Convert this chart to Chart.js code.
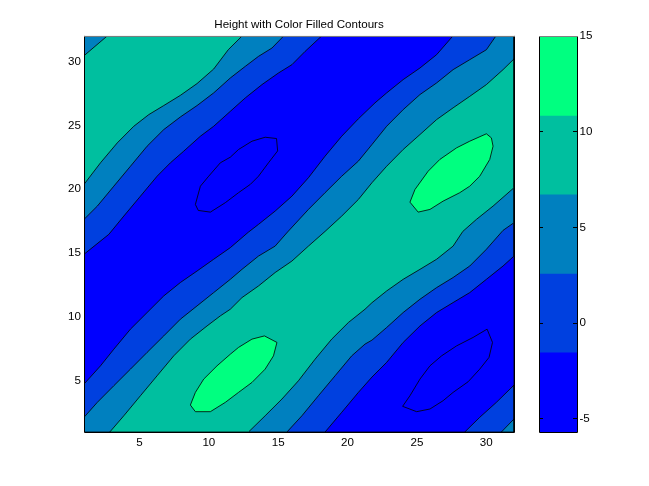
<!DOCTYPE html>
<html>
<head>
<meta charset="utf-8">
<script src="https://cdn.jsdelivr.net/npm/chart.js@4.4.1/dist/chart.umd.min.js"></script>
<style>
  html, body { margin: 0; padding: 0; background: #fff; }
  #wrap { position: relative; width: 649px; height: 486px; }
  canvas { position: absolute; top: 0; }
</style>
</head>
<body>
<div id="wrap">
  <canvas id="main" width="649" height="486" style="left:0"></canvas>
  <canvas id="cbar" width="129" height="486" style="left:520px"></canvas>
</div>
<script>
// axis limits and ticks
const xLim = [1, 32];
const yLim = [1, 32];
const xTicks = [5, 10, 15, 20, 25, 30];
const yTicks = [5, 10, 15, 20, 25, 30];
const cbTicks = [-5, 0, 5, 10, 15];

// contour levels (band edges) and band colours (winter)
const levels = [-5.68, -1.55, 2.57, 6.71, 10.82, 15];
const bandColors = ['#0000ff', '#0040df', '#0080bf', '#00bf9f', '#00ff80'];

// contour lines, [x, y]
const lineCorner = [[1, 30.45], [2.68, 32]];
const lineB = [[1, 20.38], [2.19, 22.07], [3.4, 23.63], [4.59, 24.93], [5.67, 25.84], [6.75, 26.55], [7.95, 27.35], [9.15, 28.27], [10.35, 29.41], [11.4, 30.92], [12.4, 32]];
const lineC = [[1, 17.64], [1.96, 18.68], [3.15, 20.24], [4.35, 21.8], [5.55, 23.37], [6.75, 24.67], [7.95, 25.66], [9.15, 26.55], [10.35, 27.54], [11.55, 28.71], [12.63, 29.62], [13.58, 30.4], [14.55, 31.05], [15.4, 32]];
const lineD = [[1, 14.91], [2.79, 16.47], [3.87, 17.9], [5.07, 19.46], [6.27, 21.02], [7.23, 22.07], [8.19, 22.98], [9.39, 24.15], [10.35, 24.93], [11.55, 26.1], [12.63, 27.15], [13.83, 28.19], [15.02, 29.1], [15.99, 29.75], [16.94, 30.79], [18.14, 32]];
const lineE = [[1, 4.75], [2.19, 6.18], [3.15, 7.48], [4.35, 9.05], [5.55, 10.35], [6.75, 11.65], [7.95, 12.7], [9.15, 13.6], [10.35, 14.52], [11.55, 15.43], [12.84, 16.63], [13.58, 17.25], [14.78, 18.29], [15.99, 19.46], [17.18, 20.9], [18.38, 22.59], [19.58, 24.15], [20.78, 25.51], [21.98, 26.76], [22.82, 27.54], [24.01, 28.58], [25.22, 29.49], [26.42, 30.53], [27.6, 32]];
const lineF = [[1, 2.15], [1.96, 3.32], [3.15, 4.62], [4.35, 5.92], [5.55, 7.23], [6.75, 8.52], [7.95, 9.83], [9.15, 10.87], [10.35, 11.91], [11.55, 12.95], [12.39, 13.73], [13.58, 14.77], [14.78, 15.55], [15.68, 16.66], [17.18, 18.42], [18.38, 19.73], [19.58, 21.02], [20.78, 22.2], [21.76, 23.5], [22.82, 24.93], [24.01, 26.23], [25.22, 27.41], [26.42, 28.32], [27.61, 29.36], [28.81, 30.14], [30.01, 30.92], [30.7, 32]];
const lineG = [[2.86, 1], [3.87, 2.27], [5.07, 3.84], [6.27, 5.4], [7.47, 6.96], [8.67, 8.27], [9.87, 9.3], [10.83, 10.09], [11.55, 10.61], [12.39, 11.52], [13.58, 12.43], [14.78, 13.48], [15.99, 14.38], [17.18, 15.55], [18.38, 16.7], [19.58, 17.9], [20.78, 19.2], [21.76, 20.51], [22.82, 21.8], [24.01, 23.11], [25.22, 24.28], [26.42, 25.45], [27.61, 26.37], [28.81, 27.27], [30.01, 28.19], [31.21, 29.36], [32, 30.2]];
const lineH = [[12.86, 1], [14.06, 2.27], [15.27, 3.58], [16.46, 5.01], [17.66, 6.7], [18.86, 8.27], [20.06, 9.57], [21.26, 10.61], [21.76, 11.12], [22.82, 12.04], [24.01, 12.95], [25.22, 13.73], [26.42, 14.52], [27.61, 15.55], [28.31, 16.7], [29.29, 17.64], [30.49, 18.68], [32, 20.12]];
const lineI = [[15.63, 1], [16.71, 2.27], [17.9, 3.84], [19.1, 5.4], [20.3, 6.96], [21.26, 7.88], [21.76, 8.19], [22.82, 9.18], [24.01, 10.35], [25.22, 11.39], [26.42, 12.3], [27.61, 13.09], [28.81, 13.99], [30.01, 15.3], [31.21, 16.78], [32, 17.38]];
const lineJ = [[18.38, 1], [19.58, 2.54], [20.78, 4.1], [21.76, 5.3], [22.82, 6.45], [24.01, 8.01], [25.22, 9.3], [26.42, 10.35], [27.61, 11.13], [28.81, 11.91], [30.01, 12.95], [31.21, 13.99], [32, 14.77]];
const lineK = [[28.45, 1], [29.53, 2.15], [30.73, 3.32], [32, 4.67]];
const lineM = [[31.09, 1], [32, 2.02]];

// closed loops: two peaks and two dips
const peakA = [[8.67, 3.11], [9.03, 4.1], [9.63, 5.14], [10.59, 6.18], [11.55, 7.09], [12.14, 7.62], [13.11, 8.27], [14.01, 8.52], [14.91, 8.01], [14.66, 6.96], [14.06, 5.92], [13.11, 4.88], [12.14, 4.1], [11.19, 3.32], [10.11, 2.59], [9.03, 2.59]];
const peakB = [[24.5, 18.99], [24.86, 19.98], [25.81, 21.41], [26.65, 22.33], [27.86, 23.24], [28.81, 23.76], [30.01, 24.34], [30.37, 24.02], [30.49, 23.37], [30.25, 22.33], [29.53, 21.02], [28.81, 20.24], [28.09, 19.73], [26.89, 19.07], [25.94, 18.42], [25.09, 18.21]];
const dipA = [[9.03, 18.81], [9.39, 20.24], [9.99, 21.02], [10.83, 22.07], [11.55, 22.51], [12.14, 23.11], [13.11, 23.76], [14.06, 24.07], [14.88, 23.97], [14.96, 23.0], [14.3, 22.07], [13.58, 21.02], [12.99, 20.38], [12.14, 19.73], [11.19, 18.95], [10.11, 18.21], [9.24, 18.34]];
const dipB = [[23.97, 3.01], [24.5, 3.84], [25.22, 5.14], [25.94, 6.18], [26.78, 6.96], [27.86, 7.74], [29.05, 8.4], [30.06, 9.05], [30.45, 8.01], [30.2, 6.84], [29.53, 5.92], [28.69, 4.93], [27.61, 4.1], [26.89, 3.45], [25.94, 2.8], [24.98, 2.59]];

const rev = (a) => a.slice().reverse();
const lo = [xLim[0], yLim[0]], lr = [xLim[1], yLim[0]];
const ul = [xLim[0], yLim[1]], ur = [xLim[1], yLim[1]];

// filled regions painted bottom to top (value above each level)
const regions = [
  { pts: [lo, lr, ur, ul], band: 0 },
  { pts: [...lineD, ul], band: 1 },
  { pts: [...lineE, ur, ...rev(lineJ), lo], band: 1 },
  { pts: [...lineK, lr], band: 1 },
  { pts: [...lineC, ul], band: 2 },
  { pts: [...lineF, ur, ...rev(lineI), lo], band: 2 },
  { pts: [...lineM, lr], band: 2 },
  { pts: [...lineB, ...rev(lineCorner)], band: 3 },
  { pts: [...lineG, ...rev(lineH)], band: 3 },
  { pts: peakA, band: 4 },
  { pts: peakB, band: 4 },
  { pts: dipA, band: null },
  { pts: dipB, band: null }
];

const font = { family: "Arial, 'Liberation Sans', Helvetica, sans-serif", size: 11.6 };
Chart.defaults.color = '#000';
Chart.defaults.font.family = font.family;

const datasets = regions.map((r, i) => {
  const data = r.pts.map((p) => ({ x: p[0], y: p[1] }));
  data.push({ x: r.pts[0][0], y: r.pts[0][1] });
  const filled = r.band !== null;
  return {
    data,
    borderColor: '#000',
    borderWidth: 0.8,
    backgroundColor: filled ? bandColors[r.band] : 'rgba(0,0,0,0)',
    fill: filled ? 'shape' : false,
    pointRadius: 0,
    tension: 0,
    order: -i
  };
});

// plain box round the plot area
const frame = {
  id: 'frame',
  afterDraw(chart) {
    const { ctx, chartArea: a } = chart;
    ctx.save();
    ctx.lineWidth = 1;
    ctx.strokeStyle = '#000';
    ctx.beginPath();
    ctx.moveTo(a.left + 0.5, a.top);
    ctx.lineTo(a.left + 0.5, a.bottom + 0.5);
    ctx.lineTo(a.right + 0.5, a.bottom + 0.5);
    ctx.lineTo(a.right + 0.5, a.top);
    ctx.stroke();
    ctx.strokeStyle = '#808080';
    ctx.beginPath();
    ctx.moveTo(a.left, a.top + 0.5);
    ctx.lineTo(a.right + 1, a.top + 0.5);
    ctx.stroke();
    ctx.restore();
  }
};

new Chart(document.getElementById('main'), {
  type: 'line',
  data: { datasets },
  options: {
    responsive: false,
    animation: false,
    layout: { padding: { left: 0, right: 135, top: 0, bottom: 0 } },
    plugins: {
      legend: { display: false },
      tooltip: { enabled: false },
      title: {
        display: true,
        fullSize: false,
        text: 'Height with Color Filled Contours',
        color: '#000',
        font: { family: font.family, size: 11.6, weight: 'normal' },
        padding: { top: 17.5, bottom: 4.5 }
      }
    },
    scales: {
      x: {
        type: 'linear',
        min: xLim[0],
        max: xLim[1],
        grid: { display: false, drawTicks: false },
        border: { display: false },
        ticks: { font, padding: 4, maxRotation: 0, autoSkip: false },
        afterBuildTicks: (s) => { s.ticks = xTicks.map((v) => ({ value: v })); },
        afterFit: (s) => { s.height = 54; }
      },
      y: {
        type: 'linear',
        min: yLim[0],
        max: yLim[1],
        grid: { display: false, drawTicks: false },
        border: { display: false },
        ticks: { font, padding: 3, autoSkip: false },
        afterBuildTicks: (s) => { s.ticks = yTicks.map((v) => ({ value: v })); },
        afterFit: (s) => { s.width = 84; }
      }
    }
  },
  plugins: [frame]
});

// colour bar: one column of floating bars, one per band
new Chart(document.getElementById('cbar'), {
  type: 'bar',
  data: {
    labels: [''],
    datasets: bandColors.map((c, i) => ({
      data: [[levels[i], levels[i + 1]]],
      backgroundColor: c,
      borderWidth: 0,
      barPercentage: 1,
      categoryPercentage: 1,
      grouped: false
    }))
  },
  options: {
    responsive: false,
    animation: false,
    layout: { padding: { left: 0, right: 0, top: 36, bottom: 54 } },
    plugins: { legend: { display: false }, tooltip: { enabled: false } },
    scales: {
      x: { display: false },
      y: {
        position: 'right',
        min: levels[0],
        max: levels[levels.length - 1],
        grid: { display: true, drawOnChartArea: false, drawTicks: true, tickLength: -4, color: '#000', z: 1 },
        border: { display: false },
        ticks: { font, padding: 6.5, autoSkip: false },
        afterBuildTicks: (s) => { s.ticks = cbTicks.map((v) => ({ value: v })); },
        afterFit: (s) => { s.width = 72; }
      },
      yl: {
        position: 'left',
        min: levels[0],
        max: levels[levels.length - 1],
        grid: { display: true, drawOnChartArea: false, drawTicks: true, tickLength: -4, color: '#000', z: 1 },
        border: { display: false },
        ticks: { display: false },
        afterBuildTicks: (s) => { s.ticks = cbTicks.map((v) => ({ value: v })); },
        afterFit: (s) => { s.width = 19; }
      }
    }
  },
  plugins: [frame]
});
</script>
</body>
</html>
